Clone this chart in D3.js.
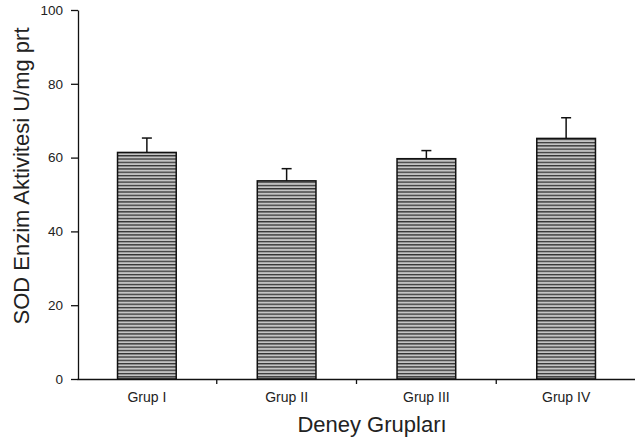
<!DOCTYPE html>
<html>
<head>
<meta charset="utf-8">
<script src="https://cdn.jsdelivr.net/npm/d3@7"></script>
<style>
  body { margin: 0; background: #fff; }
  text { font-family: "Liberation Sans", Arial, sans-serif; fill: #222; }
</style>
</head>
<body>
<svg id="chart" width="635" height="446"></svg>
<script>
const svg = d3.select("#chart");

// Data
const groups = ["Grup I", "Grup II", "Grup III", "Grup IV"];
const means = [61.4, 53.7, 59.7, 65.2];
const errors = [3.9, 3.3, 2.2, 5.6];
const yTicks = [0, 20, 40, 60, 80, 100];

const x = d3.scaleBand()
  .domain(groups)
  .range([77, 636])
  .paddingInner(0.58)
  .paddingOuter(0.29);

const y = d3.scaleLinear()
  .domain([0, 100])
  .range([379, 10]);

// Hatch pattern
const defs = svg.append("defs");
const pat = defs.append("pattern")
  .attr("id", "hatch")
  .attr("patternUnits", "userSpaceOnUse")
  .attr("width", 8)
  .attr("height", 3.3);
pat.append("rect").attr("width", 8).attr("height", 3.3).attr("fill", "#c4c4c4");
pat.append("rect").attr("y", 0).attr("width", 8).attr("height", 1.3).attr("fill", "#333");

// Bars
svg.append("g")
  .selectAll("rect")
  .data(groups)
  .join("rect")
  .attr("x", d => x(d))
  .attr("y", (d, i) => y(means[i]))
  .attr("width", x.bandwidth())
  .attr("height", (d, i) => y(0) - y(means[i]))
  .attr("fill", "url(#hatch)")
  .attr("stroke", "#111")
  .attr("stroke-width", 1.5);

// Error bars (upper only)
const err = svg.append("g").attr("stroke", "#111").attr("stroke-width", 1.5);
err.selectAll("line.v")
  .data(groups)
  .join("line")
  .attr("class", "v")
  .attr("x1", d => x(d) + x.bandwidth() / 2)
  .attr("x2", d => x(d) + x.bandwidth() / 2)
  .attr("y1", (d, i) => y(means[i]))
  .attr("y2", (d, i) => y(means[i] + errors[i]));
err.selectAll("line.c")
  .data(groups)
  .join("line")
  .attr("class", "c")
  .attr("x1", d => x(d) + x.bandwidth() / 2 - 5)
  .attr("x2", d => x(d) + x.bandwidth() / 2 + 5)
  .attr("y1", (d, i) => y(means[i] + errors[i]))
  .attr("y2", (d, i) => y(means[i] + errors[i]));

// Y axis
const yAxis = svg.append("g")
  .attr("transform", "translate(78,0)")
  .call(d3.axisLeft(y).tickValues(yTicks).tickSize(7).tickPadding(8).tickSizeOuter(0));
yAxis.select(".domain").attr("stroke", "#111").attr("stroke-width", 1.3);
yAxis.selectAll(".tick line").attr("stroke", "#111").attr("stroke-width", 1.3);
yAxis.selectAll(".tick text").attr("font-size", 13.5).attr("fill", "#333");

// X axis
const xAxis = svg.append("g")
  .attr("transform", `translate(0,${y(0)})`)
  .call(d3.axisBottom(x).tickSize(0).tickPadding(13));
xAxis.select(".domain").attr("stroke", "#111").attr("stroke-width", 1.3);
xAxis.selectAll(".tick text").attr("font-size", 14).attr("fill", "#333");

// Ticks between groups
svg.append("g")
  .selectAll("line")
  .data(groups.slice(1))
  .join("line")
  .attr("x1", d => x(d) - x.step() * x.paddingInner() / 2)
  .attr("x2", d => x(d) - x.step() * x.paddingInner() / 2)
  .attr("y1", y(0))
  .attr("y2", y(0) + 5)
  .attr("stroke", "#111")
  .attr("stroke-width", 1.3);

// Axis titles
svg.append("text")
  .attr("x", 372)
  .attr("y", 432)
  .attr("text-anchor", "middle")
  .attr("font-size", 22)
  .text("Deney Grupları");

svg.append("text")
  .attr("transform", "translate(29,176) rotate(-90)")
  .attr("text-anchor", "middle")
  .attr("font-size", 22)
  .text("SOD Enzim Aktivitesi U/mg prt");
</script>
</body>
</html>
